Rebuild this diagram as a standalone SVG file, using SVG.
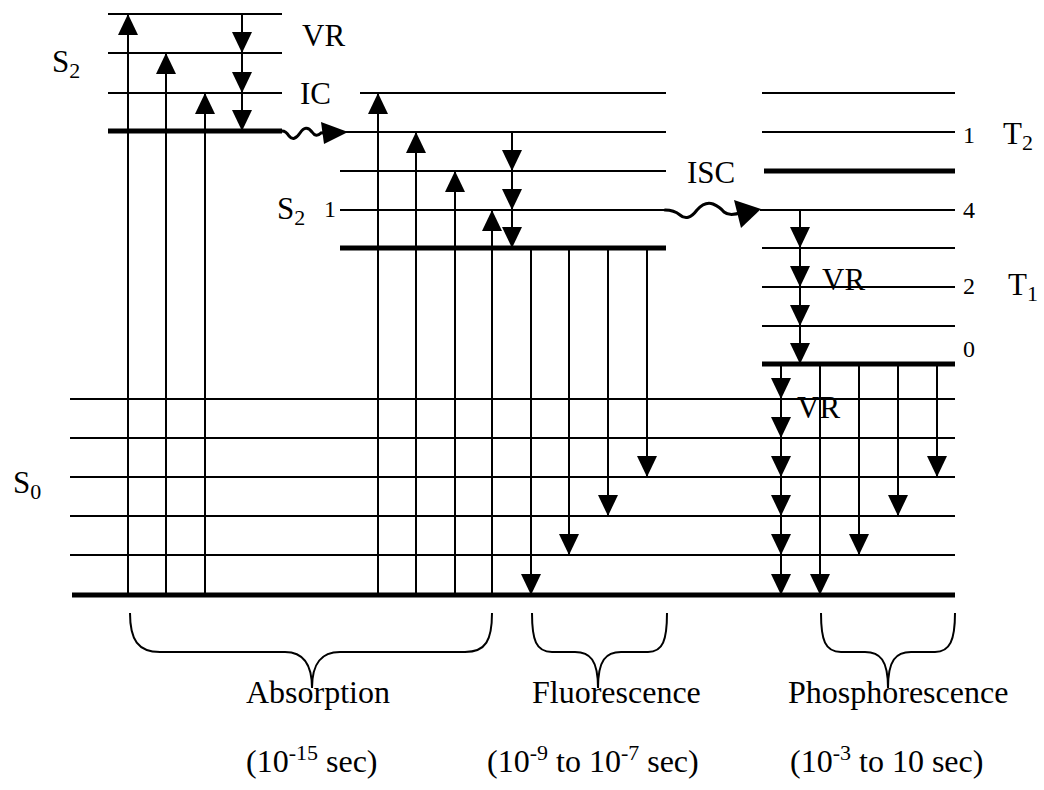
<svg xmlns="http://www.w3.org/2000/svg" width="1044" height="790" viewBox="0 0 1044 790">
<style>
  .lv{stroke:#000;stroke-width:2;fill:none}
  .lt{stroke:#000;stroke-width:5;fill:none}
  .ar{stroke:#000;stroke-width:2;fill:none;marker-end:url(#ah)}
  .br{stroke:#000;stroke-width:2;fill:none}
  .wv{stroke:#000;stroke-width:3;fill:none;stroke-linecap:round}
  text{font-family:"Liberation Serif","Times New Roman",serif;fill:#000}
  .big{font-size:31px}
  .num{font-size:24px}
  .lab{font-size:32px}
  .sub{font-size:22px}
</style>
<defs>
  <marker id="ah" viewBox="0 0 21 20" refX="21" refY="10" markerWidth="21" markerHeight="20" orient="auto" markerUnits="userSpaceOnUse">
    <path d="M0,0 L21,10 L0,20 Z" fill="#000"/>
  </marker>
</defs>
<rect width="1044" height="790" fill="#fff"/>

<g id="S2-upper">
  <line class="lv" x1="108" y1="14" x2="282" y2="14"/>
  <line class="lv" x1="108" y1="53" x2="282" y2="53"/>
  <line class="lv" x1="108" y1="93" x2="282" y2="93"/>
  <line class="lt" x1="108" y1="131" x2="282" y2="131"/>
  <text class="big" x="52" y="72">S<tspan class="sub" dy="6">2</tspan></text>
  <text class="big" x="302" y="46">VR</text>
  <text class="big" x="300" y="104">IC</text>
</g>

<g id="S1-middle">
  <line class="lv" x1="360" y1="93" x2="666" y2="93"/>
  <line class="lv" x1="343" y1="132" x2="666" y2="132"/>
  <line class="lv" x1="340" y1="171" x2="666" y2="171"/>
  <line class="lv" x1="340" y1="210" x2="666" y2="210"/>
  <line class="lt" x1="340" y1="248" x2="666" y2="248"/>
  <text class="big" x="277" y="219">S<tspan class="sub" dy="6">2</tspan></text>
  <text class="num" x="324" y="217">1</text>
</g>

<g id="T-right">
  <line class="lv" x1="762" y1="93" x2="955" y2="93"/>
  <line class="lv" x1="762" y1="132" x2="955" y2="132"/>
  <line class="lt" x1="764" y1="171" x2="955" y2="171"/>
  <line class="lv" x1="760" y1="210" x2="955" y2="210"/>
  <line class="lv" x1="762" y1="248" x2="955" y2="248"/>
  <line class="lv" x1="762" y1="287" x2="955" y2="287"/>
  <line class="lv" x1="762" y1="326" x2="955" y2="326"/>
  <line class="lt" x1="762" y1="364" x2="955" y2="364"/>
  <text class="num" x="963" y="143">1</text>
  <text class="num" x="963" y="218">4</text>
  <text class="num" x="963" y="294">2</text>
  <text class="num" x="963" y="357">0</text>
  <text class="big" x="1003" y="144">T<tspan class="sub" dy="6">2</tspan></text>
  <text class="big" x="1008" y="295">T<tspan class="sub" dy="6">1</tspan></text>
  <text class="big" x="687" y="183">ISC</text>
  <text class="big" x="822" y="290">VR</text>
  <text class="big" x="797" y="418">VR</text>
</g>

<g id="S0-ground">
  <line class="lv" x1="70" y1="399" x2="955" y2="399"/>
  <line class="lv" x1="70" y1="438" x2="955" y2="438"/>
  <line class="lv" x1="70" y1="477" x2="955" y2="477"/>
  <line class="lv" x1="70" y1="516" x2="955" y2="516"/>
  <line class="lv" x1="70" y1="555" x2="955" y2="555"/>
  <line class="lt" x1="72" y1="595" x2="955" y2="595"/>
  <text class="big" x="13" y="493">S<tspan class="sub" dy="6">0</tspan></text>
</g>

<g id="connectors">
  <!-- absorption -->
  <line class="ar" x1="128" y1="595" x2="128" y2="14"/>
  <line class="ar" x1="166" y1="595" x2="166" y2="53"/>
  <line class="ar" x1="205" y1="595" x2="205" y2="93"/>
  <line class="ar" x1="378" y1="595" x2="378" y2="93"/>
  <line class="ar" x1="416" y1="595" x2="416" y2="132"/>
  <line class="ar" x1="455" y1="595" x2="455" y2="171"/>
  <line class="ar" x1="492" y1="595" x2="492" y2="210"/>
  <!-- VR in S2 -->
  <line class="ar" x1="242" y1="14" x2="242" y2="53"/>
  <line class="ar" x1="242" y1="53" x2="242" y2="93"/>
  <line class="ar" x1="242" y1="93" x2="242" y2="131"/>
  <!-- VR in S1 -->
  <line class="ar" x1="512" y1="132" x2="512" y2="171"/>
  <line class="ar" x1="512" y1="171" x2="512" y2="210"/>
  <line class="ar" x1="512" y1="210" x2="512" y2="248"/>
  <!-- VR in T1 -->
  <line class="ar" x1="800" y1="210" x2="800" y2="248"/>
  <line class="ar" x1="800" y1="248" x2="800" y2="287"/>
  <line class="ar" x1="800" y1="287" x2="800" y2="326"/>
  <line class="ar" x1="800" y1="326" x2="800" y2="364"/>
  <!-- fluorescence -->
  <line class="ar" x1="531" y1="248" x2="531" y2="595"/>
  <line class="ar" x1="569" y1="248" x2="569" y2="555"/>
  <line class="ar" x1="608" y1="248" x2="608" y2="516"/>
  <line class="ar" x1="647" y1="248" x2="647" y2="477"/>
  <!-- VR cascade in S0 -->
  <line class="ar" x1="781" y1="364" x2="781" y2="399"/>
  <line class="ar" x1="781" y1="399" x2="781" y2="438"/>
  <line class="ar" x1="781" y1="438" x2="781" y2="477"/>
  <line class="ar" x1="781" y1="477" x2="781" y2="516"/>
  <line class="ar" x1="781" y1="516" x2="781" y2="555"/>
  <line class="ar" x1="781" y1="555" x2="781" y2="595"/>
  <!-- phosphorescence -->
  <line class="ar" x1="820" y1="364" x2="820" y2="595"/>
  <line class="ar" x1="859" y1="364" x2="859" y2="555"/>
  <line class="ar" x1="898" y1="364" x2="898" y2="516"/>
  <line class="ar" x1="937" y1="364" x2="937" y2="477"/>
  <!-- IC wavy -->
  <path class="wv" d="M282,131 Q286,131 289,136 Q294,142 300,133 Q306,124 312,132 Q316,138 321,133 L332,132"/>
  <polygon points="348,132 321,122 324,144" fill="#000"/>
  <!-- ISC wavy -->
  <path class="wv" d="M665,210 Q674,210 680,215 Q688,222 697,210 Q705,201 713,204 Q720,207 724,212 Q730,217 742,212"/>
  <polygon points="761,209 734,200 741,228" fill="#000"/>
</g>

<g id="braces">
  <path class="br" d="M130,613 C130,640 138,652 160,652 L285,652 C302,652 312,662 312,688 C312,662 322,652 340,652 L465,652 C486,652 492,640 492,613"/>
  <path class="br" d="M532,613 C532,640 536,652 552,652 L575,652 C590,652 598,660 598,688 C598,660 606,652 621,652 L648,652 C663,652 667,640 667,613"/>
  <path class="br" d="M821,613 C821,640 825,652 841,652 L865,652 C880,652 888,660 888,688 C888,660 896,652 911,652 L935,652 C950,652 955,640 955,613"/>
</g>

<g id="labels">
  <text class="lab" x="246" y="703">Absorption</text>
  <text class="lab" x="532" y="703">Fluorescence</text>
  <text class="lab" x="788" y="703">Phosphorescence</text>
  <text class="lab" x="246" y="772">(10<tspan class="sub" dy="-12">-15</tspan><tspan dy="12"> sec)</tspan></text>
  <text class="lab" x="487" y="772">(10<tspan class="sub" dy="-12">-9</tspan><tspan dy="12"> to 10</tspan><tspan class="sub" dy="-12">-7</tspan><tspan dy="12"> sec)</tspan></text>
  <text class="lab" x="790" y="772">(10<tspan class="sub" dy="-12">-3</tspan><tspan dy="12"> to 10 sec)</tspan></text>
</g>
</svg>
